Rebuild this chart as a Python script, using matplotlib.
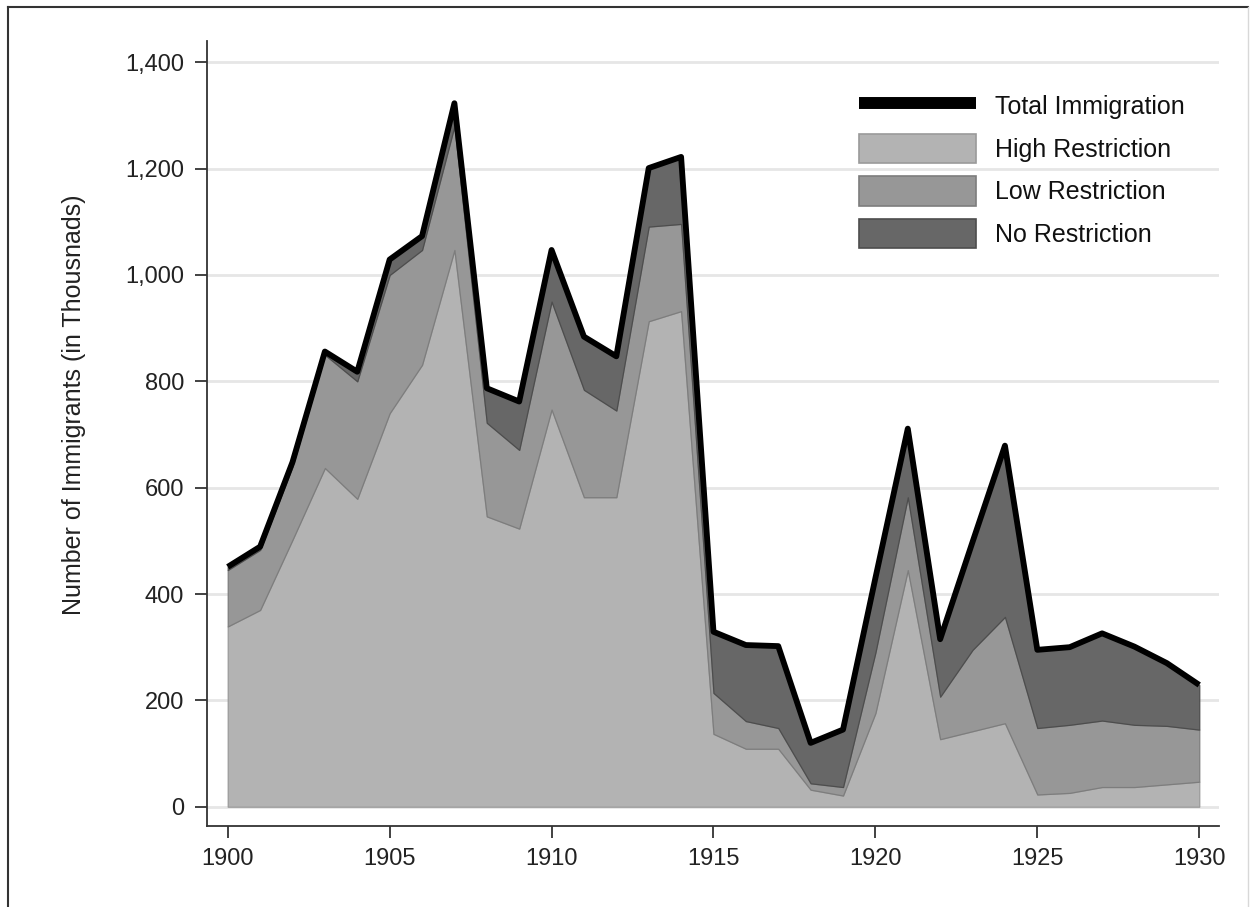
import numpy as np
import matplotlib.pyplot as plt
from matplotlib.lines import Line2D
from matplotlib.patches import Patch
from matplotlib.ticker import FuncFormatter

# datos (miles de inmigrantes)
years = np.arange(1900, 1931)
high_restriction = [339, 370, 502, 637, 579, 740, 831, 1047, 546, 523, 747, 582, 582, 913, 932,
                    137, 109, 109, 32, 21, 176, 445, 127, 142, 157, 23, 26, 37, 37, 42, 47]
low_restriction = [106, 113, 138, 213, 221, 260, 216, 233, 176, 148, 203, 202, 163, 178, 164,
                   77, 52, 39, 12, 16, 114, 137, 80, 153, 200, 125, 128, 125, 117, 110, 98]
no_restriction = [6, 6, 8, 6, 18, 29, 26, 43, 65, 91, 97, 100, 102, 110, 126,
                  115, 143, 154, 76, 108, 140, 129, 108, 203, 322, 147, 146, 164, 147, 118, 84]

labels = ['Total Immigration', 'High Restriction', 'Low Restriction', 'No Restriction']
colores = ['#b3b3b3', '#979797', '#676767']
bordes = ['#9a9a9a', '#7d7d7d', '#4d4d4d']

plt.rcParams['font.family'] = ['Liberation Sans', 'DejaVu Sans']

fig = plt.figure(figsize=(12.5, 9.07), dpi=100)
W, H = 1250, 907
ax = fig.add_axes([207 / W, 1 - 826 / H, (1219 - 207) / W, (826 - 41) / H])

capas = [np.array(high_restriction), np.array(low_restriction), np.array(no_restriction)]
base = np.zeros(len(years))
for capa, c, e in zip(capas, colores, bordes):
    ax.fill_between(years, base, base + capa, facecolor=c, edgecolor=e, linewidth=0.9, zorder=2)
    base = base + capa

total = base
ax.plot(years, total, color='black', linewidth=4.2, solid_joinstyle='round',
        solid_capstyle='butt', zorder=3)

ax.set_xlim(1899.36, 1930.61)
ax.set_ylim(-36.3, 1440)
ax.set_xticks(np.arange(1900, 1931, 5))
ax.set_yticks(np.arange(0, 1401, 200))
ax.yaxis.set_major_formatter(FuncFormatter(lambda v, p: f'{int(v):,}'))

ax.grid(axis='y', color='#e6e6e6', linewidth=2.0, zorder=0)
ax.set_axisbelow(True)
for s in ['top', 'right']:
    ax.spines[s].set_visible(False)
for s in ['left', 'bottom']:
    ax.spines[s].set_color('#333333')
    ax.spines[s].set_linewidth(1.3)
ax.tick_params(axis='both', colors='#333333', length=8.5, width=1.3, labelsize=17,
               labelcolor='#222222')
ax.tick_params(axis='y', pad=8)
ax.tick_params(axis='x', pad=7)

ax.set_ylabel('Number of Immigrants (in Thousnads)', fontsize=18, color='#222222', va='center')
ax.yaxis.set_label_coords(-0.131, 0.536)

handles = [Line2D([0], [0], color='black', linewidth=8.6, solid_capstyle='butt')]
for c, e in zip(colores, bordes):
    handles.append(Patch(facecolor=c, edgecolor=e, linewidth=1.2))
leg = ax.legend(handles, labels, loc='upper left', bbox_to_anchor=(0.6315, 0.952),
                frameon=False, borderpad=0, handlelength=4.7, handleheight=1.44,
                handletextpad=0.75, labelspacing=0.52, fontsize=18)
for t in leg.get_texts():
    t.set_color('#111111')

# marco exterior
fig.add_artist(Line2D([8 / W, 1248 / W], [1 - 7 / H, 1 - 7 / H], color='#333333', linewidth=1.5))
fig.add_artist(Line2D([8 / W, 8 / W], [0, 1 - 7 / H], color='#333333', linewidth=1.5))
fig.add_artist(Line2D([1248 / W, 1248 / W], [0, 1 - 7 / H], color='#d8d8d8', linewidth=1.0))

fig.savefig('out.png', dpi=100, facecolor='white')
